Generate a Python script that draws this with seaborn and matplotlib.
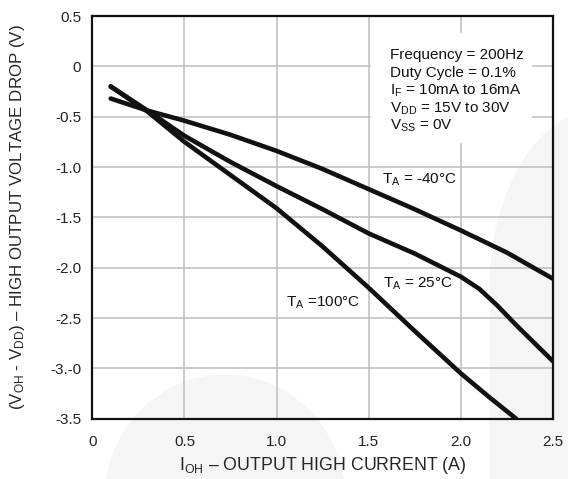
import numpy as np
import pandas as pd
import matplotlib
matplotlib.use("Agg")
import matplotlib.pyplot as plt
from matplotlib.patches import Ellipse, Rectangle
import seaborn as sns

# -----------------------------
# data
# -----------------------------
i_oh_m40 = [0.1, 0.3, 0.5, 0.75, 1.0, 1.25, 1.5, 1.75, 2.0, 2.25, 2.5]
v_drop_m40 = [-0.32, -0.44, -0.54, -0.68, -0.84, -1.02, -1.22, -1.42, -1.63, -1.85, -2.11]

i_oh_25 = [0.1, 0.3, 0.5, 0.75, 1.0, 1.25, 1.5, 1.75, 2.0, 2.1, 2.2, 2.3, 2.4, 2.5]
v_drop_25 = [-0.2, -0.44, -0.69, -0.95, -1.19, -1.42, -1.66, -1.86, -2.09, -2.21, -2.38,
             -2.57, -2.75, -2.93]

i_oh_100 = [0.1, 0.3, 0.5, 0.75, 1.0, 1.25, 1.5, 1.75, 2.0, 2.15, 2.3]
v_drop_100 = [-0.2, -0.45, -0.75, -1.08, -1.41, -1.79, -2.2, -2.63, -3.05, -3.28, -3.5]

temps = ["-40", "25", "100"]
x_ticks = [0, 0.5, 1.0, 1.5, 2.0, 2.5]
x_tick_labels = ["0", "0.5", "1.0", "1.5", "2.0", "2.5"]
y_ticks = [0.5, 0, -0.5, -1.0, -1.5, -2.0, -2.5, -3.0, -3.5]
y_tick_labels = ["0.5", "0", "-0.5", "-1.0", "-1.5", "-2.0", "-2.5", "-3.-0", "-3.5"]

cond_lines = ["Frequency = 200Hz",
              "Duty Cycle = 0.1%",
              r"I$_\mathregular{F}$ = 10mA to 16mA",
              r"V$_\mathregular{DD}$ = 15V to 30V",
              r"V$_\mathregular{SS}$ = 0V"]

df = pd.concat([
    pd.DataFrame({"i_oh": i_oh_m40, "v": v_drop_m40, "temp": temps[0]}),
    pd.DataFrame({"i_oh": i_oh_25, "v": v_drop_25, "temp": temps[1]}),
    pd.DataFrame({"i_oh": i_oh_100, "v": v_drop_100, "temp": temps[2]}),
], ignore_index=True)

# -----------------------------
# style
# -----------------------------
sns.set_style("white")
plt.rcParams['font.family'] = ['Liberation Sans', 'DejaVu Sans']
plt.rcParams['mathtext.fontset'] = 'custom'
plt.rcParams['mathtext.rm'] = 'Liberation Sans'
plt.rcParams['mathtext.it'] = 'Liberation Sans:italic'

W, H = 568, 479
fig = plt.figure(figsize=(W / 100, H / 100), dpi=100, facecolor='white')

# faint watermark shapes behind the plot
wm = '#f5f5f5'
fig.patches.append(Ellipse((225 / W, 1 - 500 / H), 240 / W, 250 / H,
                           transform=fig.transFigure, color=wm, zorder=-5))
fig.patches.append(Ellipse((600 / W, 1 - 290 / H), 220 / W, 360 / H,
                           transform=fig.transFigure, color=wm, zorder=-5))
fig.patches.append(Rectangle((490 / W, 0), 78 / W, 1 - 290 / H,
                             transform=fig.transFigure, color=wm, zorder=-5))

ax = fig.add_axes([92.3 / W, 1 - 418.7 / H, (553 - 92.3) / W, (418.7 - 16) / H])
ax.set_facecolor('none')

sns.lineplot(data=df, x="i_oh", y="v", hue="temp", units="temp", estimator=None,
             palette={t: "#111111" for t in temps}, linewidth=3.3, legend=False,
             sort=False, ax=ax, zorder=3)
for ln in ax.lines:
    ln.set_solid_joinstyle('round')

ax.set_xlim(0, 2.5)
ax.set_ylim(-3.5, 0.5)
ax.set_xticks(x_ticks)
ax.set_xticklabels(x_tick_labels)
ax.set_yticks(y_ticks)
ax.set_yticklabels(y_tick_labels)
ax.tick_params(axis='both', direction='out', length=5, width=1, color='#333333',
               labelsize=11, labelcolor='#222222')
ax.tick_params(axis='x', pad=7)
ax.tick_params(axis='y', pad=3)

ax.grid(True, color='#bdbdbd', linewidth=1.1)
for s in ax.spines.values():
    s.set_color('#111111')
    s.set_linewidth(1.6)

ax.set_xlabel(r"I$_\mathregular{OH}$ – OUTPUT HIGH CURRENT (A)", fontsize=12.8)
ax.set_ylabel(r"(V$_\mathregular{OH}$ - V$_\mathregular{DD}$) – HIGH OUTPUT VOLTAGE DROP (V)",
              fontsize=12.2)
ax.xaxis.label.set_va('center')
ax.yaxis.label.set_va('center')
ax.xaxis.set_label_coords(0.5, -0.116)
ax.yaxis.set_label_coords(-0.163, 0.5)

# condition box (white patch over the grid)
ax.add_patch(Rectangle((1.51, -0.764), 0.875, 1.095, facecolor='white',
                       edgecolor='none', zorder=2.5))
cond_y = [0.072, -0.107, -0.281, -0.455, -0.624]
for txt, yy in zip(cond_lines, cond_y):
    ax.text(1.618, yy, txt, fontsize=11, va='baseline', ha='left',
            color='#111111', zorder=4)

# curve labels
ax.text(1.57, -1.165, r"T$_\mathregular{A}$ = -40°C", fontsize=11, va='baseline',
        ha='left', color='#111111', zorder=4)
ax.text(1.575, -2.20, r"T$_\mathregular{A}$ = 25°C", fontsize=11, va='baseline',
        ha='left', color='#111111', zorder=4)
ax.text(1.05, -2.383, r"T$_\mathregular{A}$ =100°C", fontsize=11, va='baseline',
        ha='left', color='#111111', zorder=4)

fig.savefig("out.png", dpi=100, facecolor='white')
